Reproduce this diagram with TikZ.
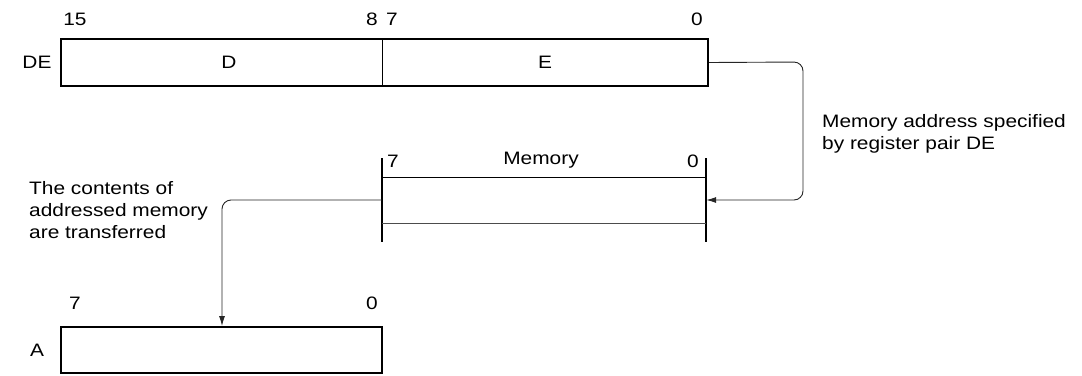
\documentclass[tikz,border=0pt]{standalone}
\usepackage{fontspec}
\setmainfont[FakeStretch=1.16]{Liberation Sans}
\usetikzlibrary{arrows.meta}
\begin{document}
\begin{tikzpicture}[x=1pt,y=-1pt,
  lbl/.style={inner sep=0pt,font=\fontsize{18}{22}\selectfont},
  regbox/.style={draw,line width=2pt,inner sep=0pt},
  bar/.style={line width=2.5pt},
  thin/.style={line width=0.9pt},
  conn/.style={line width=0.9pt,draw=black!85,rounded corners=9pt,-{Latex[length=10pt,width=6pt]}}]
\useasboundingbox (0,0) rectangle (1082,375);
% DE register
\node[regbox,minimum width=647pt,minimum height=47pt] (DEbox) at (384.5,62.5) {};
\draw[thin] (382,39) -- (382,86);
\node[lbl] (Dl) at (229,62) {D};
\node[lbl] (El) at (545,62) {E};
\node[lbl] (DEname) at (37,62) {DE};
\node[lbl] (b15) at (75,19) {15};
\node[lbl] (b8) at (372,19) {8};
\node[lbl] (b7) at (392,19) {7};
\node[lbl] (b0) at (697,19) {0};
% Memory
\node[minimum width=324pt,minimum height=46pt,inner sep=0pt] (mem) at (544,200) {};
\draw[bar] (382,158) -- (382,242);
\draw[bar] (706,158) -- (706,242);
\draw[thin] (382,177) -- (706,177);
\draw[thin,draw=black!70] (382,223) -- (706,223);
\node[lbl] (m7) at (393,161) {7};
\node[lbl] (mname) at (541,160) {Memory};
\node[lbl] (m0) at (693,161) {0};
% A register
\node[regbox,minimum width=321pt,minimum height=46pt] (Abox) at (221.5,350) {};
\node[lbl] (Aname) at (37,350) {A};
\node[lbl] (a7) at (75,303) {7};
\node[lbl] (a0) at (372,303) {0};
% texts
\node[lbl,align=left,anchor=north west] (t1) at (822,114.5) {Memory address specified\\by register pair DE};
\node[lbl,align=left,anchor=north west] (t2) at (29,181) {The contents of\\addressed memory\\are transferred};
% connectors
\coordinate (c1) at (803,62);
\coordinate (ain) at (222,326);
\draw[conn] (DEbox.east) -- (c1) |- (mem.east);
\draw[conn] (mem.west) -| (ain);
\end{tikzpicture}
\end{document}
